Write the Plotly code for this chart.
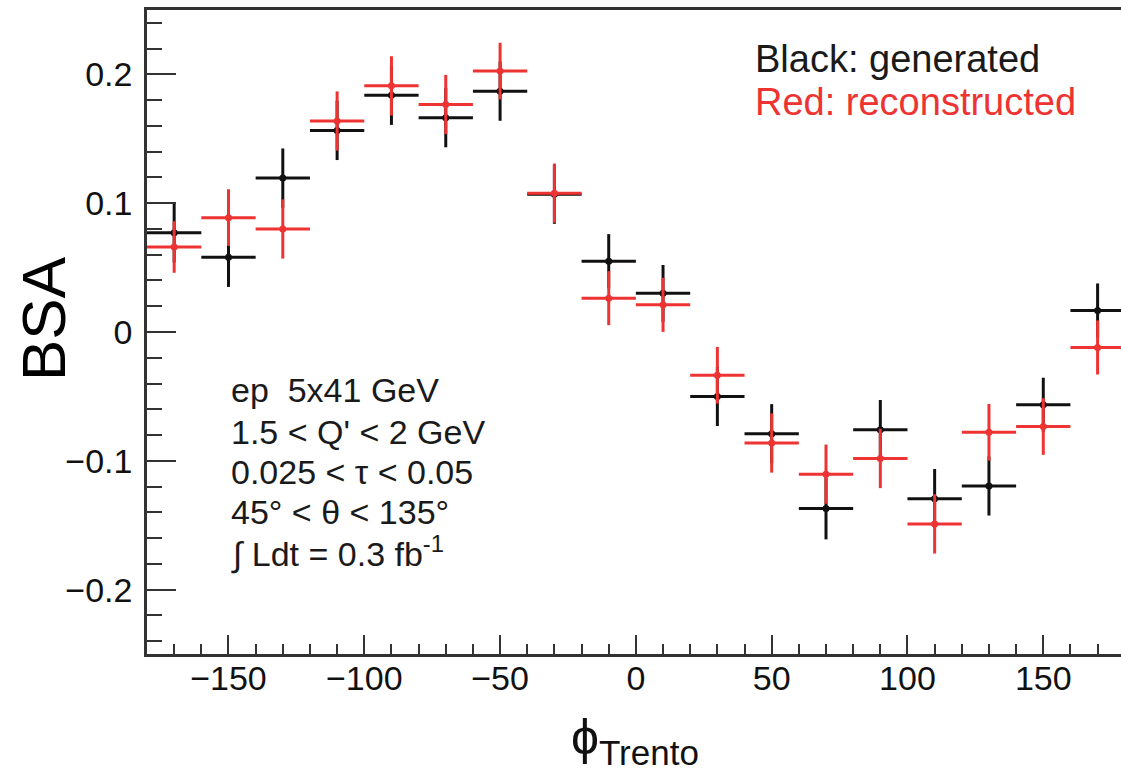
import plotly.graph_objects as go

# ---- data ----
phi_centers = [-170, -150, -130, -110, -90, -70, -50, -30, -10,
               10, 30, 50, 70, 90, 110, 130, 150, 170]
bin_half_width = [10] * 18

bsa_generated = [0.077, 0.058, 0.1195, 0.1565, 0.1838, 0.1664, 0.187, 0.107, 0.055,
                 0.030, -0.050, -0.079, -0.137, -0.0758, -0.1294, -0.1195, -0.0565, 0.0167]
err_generated = [0.023, 0.023, 0.023, 0.023, 0.023, 0.023, 0.023, 0.023, 0.021,
                 0.022, 0.023, 0.023, 0.024, 0.023, 0.023, 0.023, 0.021, 0.021]

bsa_reconstructed = [0.066, 0.0888, 0.080, 0.1638, 0.1911, 0.1766, 0.2026, 0.1078, 0.0263,
                     0.0211, -0.0336, -0.0862, -0.1104, -0.0982, -0.149, -0.0779, -0.0734, -0.012]
err_reconstructed = [0.020, 0.022, 0.023, 0.023, 0.023, 0.023, 0.022, 0.023, 0.021,
                     0.021, 0.022, 0.023, 0.023, 0.023, 0.023, 0.022, 0.022, 0.021]

info_lines = ["ep\u00a0 5x41 GeV",
              "1.5 &lt; Q' &lt; 2 GeV",
              "0.025 &lt; τ &lt; 0.05",
              "45° &lt; θ &lt; 135°",
              "∫ Ldt = 0.3 fb<sup>-1</sup>"]

BLACK = "#111111"
RED = "#ee3333"
FONT = "Liberation Sans, Arial, sans-serif"

W, H = 1121, 772
L, R, T, B = 147, 0, 10, 118
PW, PH = W - L - R, H - T - B


def px(x):
    return (x - L) / PW


def py(y):
    return (H - B - y) / PH


fig = go.Figure()
for yv, ev, col in [(bsa_generated, err_generated, BLACK),
                    (bsa_reconstructed, err_reconstructed, RED)]:
    fig.add_trace(go.Scatter(
        x=phi_centers, y=yv, mode="markers",
        marker=dict(color=col, size=7, line=dict(width=0)),
        error_x=dict(type="data", array=bin_half_width, symmetric=True,
                     thickness=3, width=0, color=col),
        error_y=dict(type="data", array=ev, symmetric=True,
                     thickness=3, width=0, color=col),
        showlegend=False,
    ))

x_max = -180 + PW / 2.716
fig.update_xaxes(
    range=[-180, x_max], showgrid=False, zeroline=False,
    showline=True, linecolor="#333", linewidth=2.5, mirror=True,
    ticks="inside", ticklen=19, tickwidth=2, tickcolor="#333",
    tickvals=[-150, -100, -50, 0, 50, 100, 150],
    tickfont=dict(family=FONT, size=34, color="#111"),
    ticklabelstandoff=-8,
    minor=dict(ticks="inside", ticklen=10, tickwidth=2, tickcolor="#333", dtick=10, tick0=0),
)
fig.update_yaxes(
    range=[-0.25, 0.25], showgrid=False, zeroline=False,
    showline=True, linecolor="#333", linewidth=2.5, mirror=False,
    ticks="inside", ticklen=29, tickwidth=2, tickcolor="#333",
    tickvals=[-0.2, -0.1, 0, 0.1, 0.2],
    tickfont=dict(family=FONT, size=34, color="#111"),
    ticklabelstandoff=5,
    minor=dict(ticks="inside", ticklen=15, tickwidth=2, tickcolor="#333", dtick=0.02, tick0=0),
)

ann = []
ann.append(dict(text="Black: generated", x=px(755), y=py(59.5), xanchor="left", yanchor="middle",
                font=dict(family=FONT, size=38, color="#1a1a1a")))
ann.append(dict(text="Red: reconstructed", x=px(755), y=py(102), xanchor="left", yanchor="middle",
                font=dict(family=FONT, size=38, color=RED)))
for i, t in enumerate(info_lines):
    cy = [390, 432, 472, 512, 551.5][i]
    ann.append(dict(text=t, x=px(231), y=py(cy), xanchor="left", yanchor="middle",
                    font=dict(family=FONT, size=34, color="#1a1a1a")))
ann.append(dict(text="BSA", x=px(43), y=py(319), xanchor="center", yanchor="middle",
                textangle=-90, font=dict(family=FONT, size=62, color="#000")))
ann.append(dict(text="ϕ<sub>Trento</sub>", x=px(635), y=py(740), xanchor="center", yanchor="middle",
                font=dict(family=FONT, size=50, color="#111")))
for a in ann:
    a.update(xref="paper", yref="paper", showarrow=False, borderpad=0, borderwidth=0)

fig.update_layout(
    width=W, height=H, autosize=False,
    margin=dict(l=L, r=R, t=T, b=B, pad=0),
    paper_bgcolor="white", plot_bgcolor="white",
    annotations=ann,
)

fig.write_html("out.html",
               config={"displayModeBar": False},
               post_script="document.body.style.margin='0px';document.body.style.overflow='hidden';")
